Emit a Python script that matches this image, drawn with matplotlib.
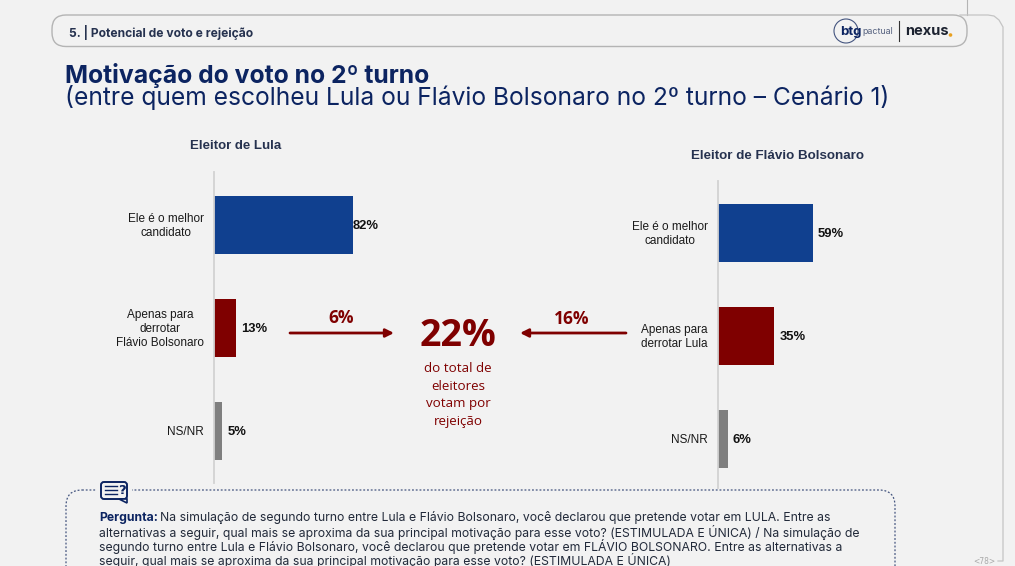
# -*- coding: utf-8 -*-

import matplotlib
matplotlib.use('Agg')
import matplotlib.pyplot as plt
from matplotlib.patches import FancyBboxPatch, Circle, Polygon, Rectangle

W, H = 1015, 566
BG = '#f2f2f2'
NAVY = '#0c2461'
BLUE = '#10408f'
RED = '#7f0000'
GREY = '#7f7f7f'
TXT = '#1a1a1a'

# Data
lula_labels = ['Ele é o melhor\ncandidato', 'Apenas para\nderrotar\nFlávio Bolsonaro', 'NS/NR']
lula_values = [82, 13, 5]
flavio_labels = ['Ele é o melhor\ncandidato', 'Apenas para\nderrotar Lula', 'NS/NR']
flavio_values = [59, 35, 6]
bar_colors = [BLUE, RED, GREY]
lula_share_total = 6
flavio_share_total = 16
total_rejection = 22

fig = plt.figure(figsize=(W / 100, H / 100), dpi=100, facecolor=BG)

# Page overlay in pixel coordinates
bg = fig.add_axes([0, 0, 1, 1])
bg.set_xlim(0, W)
bg.set_ylim(H, 0)
bg.axis('off')

# header pill and page frame
bg.add_patch(FancyBboxPatch((52, 15), 915, 31.5, boxstyle='round,pad=0,rounding_size=14',
                            fc='none', ec='#b4b4b4', lw=1))
bg.plot([967, 967], [0, 15], color='#b4b4b4', lw=0.8)
bg.plot([960, 988, 994, 999, 1003, 1003, 998], [15, 15, 16, 20, 27, 561, 561], color='#c4c4c4', lw=0.9)
bg.text(69, 32, '5. | Potencial de voto e rejeição', fontsize=8.7, fontweight='bold',
        color='#26324f', va='center', family='Inter')

# logos
bg.add_patch(Circle((846, 31), 12, fc='none', ec='#44557f', lw=0.8))
bg.text(840, 32, 'btg', fontsize=9.5, fontweight='bold', color=NAVY, va='center', family='Inter')
bg.text(862, 32, 'pactual', fontsize=6.4, color='#55617f', va='center', family='Inter')
bg.plot([899.5, 899.5], [21, 41], color='#333333', lw=0.8)
bg.text(905, 31, 'nexus', fontsize=10.5, fontweight='bold', color='#1c2230', va='center', family='Inter')
bg.add_patch(Circle((950.5, 35), 1.8, fc='#e8a020', ec='none'))

# title
bg.text(65, 75, 'Motivação do voto no 2º turno', fontsize=17.8, fontweight='bold',
        color=NAVY, va='center', family='Inter')
bg.text(65, 98, '(entre quem escolheu Lula ou Flávio Bolsonaro no 2º turno – Cenário 1)',
        fontsize=17.7, color=NAVY, va='center', family='Inter')

# group titles
bg.text(236, 146, 'Eleitor de Lula', fontsize=9.5, fontweight='bold', color='#26324f',
        ha='center', va='center', family='Liberation Sans')
bg.text(778, 156, 'Eleitor de Flávio Bolsonaro', fontsize=9.6, fontweight='bold', color='#26324f',
        ha='center', va='center', family='Liberation Sans')


def bar_panel(left, top, bottom, first_y, px_per_pct, labels, values, label_right):
    # one category step is 103 px, the bars are 58 px tall
    width = 100 * px_per_pct
    height = bottom - top
    ax = fig.add_axes([left / W, 1 - bottom / H, width / W, height / H])
    ax.patch.set_alpha(0)
    y = list(range(len(values)))
    ax.barh(y, values, height=58 / 103, color=bar_colors)
    ax.set_xlim(0, 100)
    ax.set_ylim((bottom - first_y) / 103, (top - first_y) / 103)
    ax.set_xticks([])
    ax.set_yticks([])
    for side in ['top', 'right', 'bottom']:
        ax.spines[side].set_visible(False)
    ax.spines['left'].set_color('#d2d2d2')
    ax.spines['left'].set_linewidth(1.3)
    for i, v in enumerate(values):
        offset = 0 if v > 80 else 3
        ax.text(v + offset, i + 0.01, f'{v}%', fontsize=9.4, fontweight='bold', color='#111111',
                va='center', family='Liberation Sans')
        bg.text(label_right, first_y + 103 * i + 1, labels[i], fontsize=8.5, color=TXT,
                ha='right', va='center', multialignment='center',
                family='Liberation Sans', linespacing=1.25)


bar_panel(214, 172, 483, 225, 1.695, lula_labels, lula_values, 204)
bar_panel(718, 181, 488, 233, 1.61, flavio_labels, flavio_values, 708)

# arrows and callout
bg.annotate('', xy=(394, 333), xytext=(290, 333),
            arrowprops=dict(arrowstyle='-|>', color=RED, lw=2, mutation_scale=12, shrinkA=0, shrinkB=0))
bg.annotate('', xy=(520, 333), xytext=(626, 333),
            arrowprops=dict(arrowstyle='-|>', color=RED, lw=2, mutation_scale=12, shrinkA=0, shrinkB=0))
bg.text(341, 318, f'{lula_share_total}%', fontsize=12.5, fontweight='bold', color=RED,
        ha='center', va='center', family='Open Sans')
bg.text(572, 319, f'{flavio_share_total}%', fontsize=12.5, fontweight='bold', color=RED,
        ha='center', va='center', family='Open Sans')
bg.text(458, 336, f'{total_rejection}%', fontsize=27, fontweight='bold', color=RED,
        ha='center', va='center', family='Open Sans')
for yy, line in zip([368, 386, 404, 422], ['do total de', 'eleitores', 'votam por', 'rejeição']):
    bg.text(458, yy, line, fontsize=9.6, color=RED, ha='center', va='center', family='Open Sans')

# question box
bg.add_patch(FancyBboxPatch((66, 490), 829, 120, boxstyle='round,pad=0,rounding_size=16',
                            fc='none', ec='#44557f', lw=0.9, ls=(0, (1.5, 1.5))))
bg.add_patch(Rectangle((96, 482), 36, 20, fc=BG, ec='none'))
bg.add_patch(FancyBboxPatch((101, 482), 26, 17, boxstyle='round,pad=0,rounding_size=3',
                            fc=BG, ec=NAVY, lw=1.4))
bg.add_patch(Polygon([[119, 499], [127, 499], [127, 503]], closed=True, fc=BG, ec=NAVY, lw=1.2))
for yy in [486, 490, 494]:
    bg.plot([105, 117], [yy, yy], color=NAVY, lw=1)
bg.text(122, 490, '?', fontsize=9.5, fontweight='bold', color=NAVY, ha='center', va='center')

bg.text(99, 518, 'Pergunta:', fontsize=8.8, fontweight='bold', color=NAVY, va='center', family='Inter')
bg.text(160.5, 518, 'Na simulação de segundo turno entre Lula e Flávio Bolsonaro, você declarou que pretende votar em LULA. Entre as',
        fontsize=8.8, color='#222a3a', va='center', family='Inter')
question_lines = [
    'alternativas a seguir, qual mais se aproxima da sua principal motivação para esse voto? (ESTIMULADA E ÚNICA) / Na simulação de',
    'segundo turno entre Lula e Flávio Bolsonaro, você declarou que pretende votar em FLÁVIO BOLSONARO. Entre as alternativas a',
    'seguir, qual mais se aproxima da sua principal motivação para esse voto? (ESTIMULADA E ÚNICA)',
]
for yy, line in zip([532, 546, 560], question_lines):
    bg.text(99, yy, line, fontsize=8.8, color='#222a3a', va='center', family='Inter')

bg.text(984, 561, '<78>', fontsize=5.5, color='#aaaaaa', ha='center', va='center')

fig.savefig('out.png', dpi=100, facecolor=BG)
